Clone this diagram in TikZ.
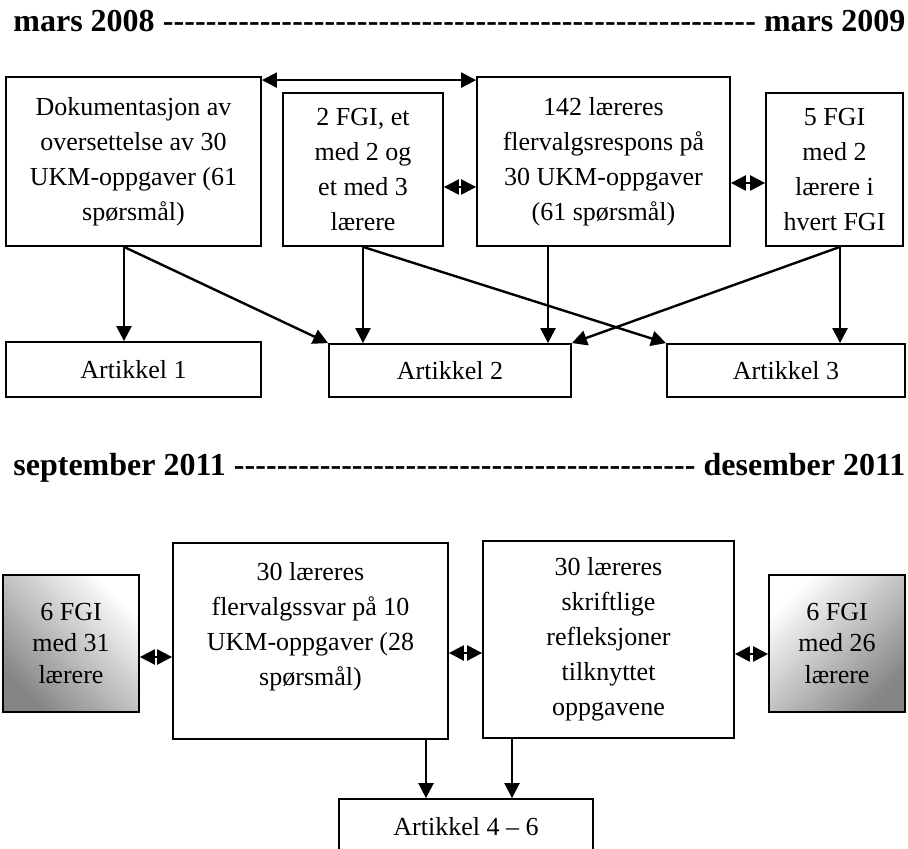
\documentclass[tikz,border=0pt]{standalone}
\usepackage{fontspec}
\setmainfont{Liberation Serif}
\usetikzlibrary{arrows.meta}

\tikzset{
  box/.style={draw,line width=0.9pt,inner sep=0pt,align=center,font=\fontsize{13}{17.5}\selectfont},
  grey/.style={box,top color=white,bottom color=black!48,font=\fontsize{13}{15.75}\selectfont},
  arr/.style={-{Triangle[length=7.5pt,width=7.5pt]},line width=1.2pt},
  darr/.style={{Triangle[length=7.5pt,width=7.5pt]}-{Triangle[length=7.5pt,width=7.5pt]},line width=1.2pt},
  title/.style={anchor=base west,inner sep=0pt,font=\fontsize{16}{19}\selectfont\bfseries}
}

\begin{document}
\begin{tikzpicture}[x=0.5pt,y=-0.5pt]
\useasboundingbox (0,0) rectangle (908,849);

% first period
\node[title] (t1) at (13,32) {\hbox to 446pt{mars 2008 \xleaders\hbox{-}\hfill\ mars 2009}};

\node[box,minimum width=127.5pt,minimum height=84.5pt] (b1) at (133.5,161.5)
  {Dokumentasjon av\\oversettelse av 30\\UKM-oppgaver (61\\spørsmål)};
\node[box,minimum width=80pt,minimum height=76.5pt] (b2) at (363,169.5)
  {2 FGI, et\\med 2 og\\et med 3\\lærere};
\node[box,minimum width=126.5pt,minimum height=84.5pt] (b3) at (603.5,161.5)
  {142 læreres\\flervalgsrespons på\\30 UKM-oppgaver\\(61 spørsmål)};
\node[box,minimum width=68.5pt,minimum height=76.5pt] (b4) at (834.5,169.5)
  {5 FGI\\med 2\\lærere i\\hvert FGI};

\node[box,minimum width=127.5pt,minimum height=27.5pt] (a1) at (133.5,369.5) {Artikkel 1};
\node[box,minimum width=121pt,minimum height=26.5pt] (a2) at (450,370.5) {Artikkel 2};
\node[box,minimum width=119pt,minimum height=26.5pt] (a3) at (786,370.5) {Artikkel 3};

\draw[darr] ([yshift=-2pt]b1.north east) -- ([yshift=-2pt]b1.north east -| b3.west);
\draw[darr] (b2.east |- 0,187) -- (b3.west |- 0,187);
\draw[darr] (b3.east |- 0,183) -- (b4.west |- 0,183);

\draw[arr] (b1.south -| 124,0) -- (a1.north -| 124,0);
\draw[arr] (b1.south -| 124,0) -- (a2.north west);
\draw[arr] (b2.south -| 363,0) -- (a2.north -| 363,0);
\draw[arr] (b2.south -| 363,0) -- (a3.north west);
\draw[arr] (b3.south -| 548,0) -- (a2.north -| 548,0);
\draw[arr] (b4.south -| 840,0) -- (a3.north -| 840,0);
\draw[arr] (b4.south -| 840,0) -- (a2.north east);

% second period
\node[title] (t2) at (13,475) {\hbox to 446pt{september 2011 \xleaders\hbox{-}\hfill\ desember 2011}};

\node[grey,shading angle=-45,minimum width=68pt,minimum height=68.5pt] (g1) at (71,643.5)
  {6 FGI\\med 31\\lærere};
\node[box,minimum width=137.5pt,minimum height=98pt] (b5) at (310.5,641)
  {30 læreres\\flervalgssvar på 10\\UKM-oppgaver (28\\spørsmål)\\\mbox{}};
\node[box,minimum width=125.5pt,minimum height=98.5pt] (b6) at (608.5,639.5)
  {30 læreres\\skriftlige\\refleksjoner\\tilknyttet\\oppgavene};
\node[grey,shading angle=45,minimum width=68pt,minimum height=68.5pt] (g2) at (837,643.5)
  {6 FGI\\med 26\\lærere};

\node[box,minimum width=127pt,minimum height=28pt] (a46) at (466,827) {Artikkel 4 – 6};

\draw[darr] (g1.east |- 0,657) -- (b5.west |- 0,657);
\draw[darr] (b5.east |- 0,653) -- (b6.west |- 0,653);
\draw[darr] (b6.east |- 0,654) -- (g2.west |- 0,654);

\draw[arr] (b5.south -| 426,0) -- (a46.north -| 426,0);
\draw[arr] (b6.south -| 512,0) -- (a46.north -| 512,0);

\end{tikzpicture}
\end{document}
